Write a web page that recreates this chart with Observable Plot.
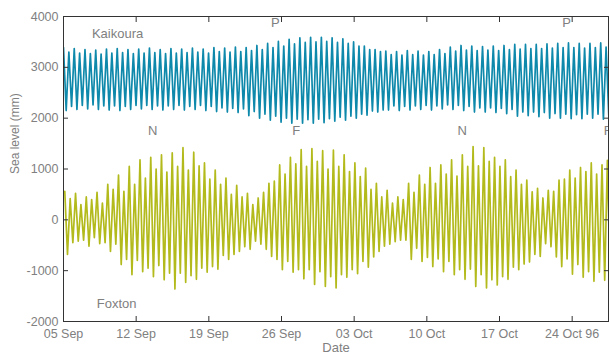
<!DOCTYPE html>
<html>
<head>
<meta charset="utf-8">
<script src="https://cdn.jsdelivr.net/npm/d3@7"></script>
<script src="https://cdn.jsdelivr.net/npm/@observablehq/plot@0.6"></script>
<style>
html,body{margin:0;padding:0;background:#fff;}
#chart svg{display:block;}
</style>
</head>
<body>
<div id="chart"></div>
<script>
// ---- Data ----
// Successive high and low water levels (mm), one pair per tidal cycle (~12.42 h)
const kaikouraHigh = [3390,3300,3370,3280,3350,3270,3340,3260,3360,3280,
 3370,3290,3350,3270,3360,3280,3380,3290,3350,3270,
 3370,3280,3360,3290,3380,3300,3360,3280,3390,3310,
 3380,3300,3400,3310,3390,3330,3430,3350,3470,3390,
 3510,3420,3550,3460,3580,3490,3590,3500,3590,3510,
 3580,3490,3560,3470,3500,3420,3420,3350,3350,3310,
 3320,3250,3310,3240,3330,3250,3320,3240,3310,3250,
 3350,3270,3400,3320,3430,3340,3420,3330,3410,3340,
 3420,3330,3430,3350,3450,3360,3450,3370,3450,3370,
 3460,3380,3470,3390,3480,3390,3470,3380,3470,3390,
 3480,3400];
const kaikouraLow = [2150,2230,2170,2250,2180,2260,2170,2240,2160,2240,
 2150,2230,2170,2250,2180,2250,2170,2240,2160,2240,
 2170,2250,2160,2230,2170,2250,2150,2230,2130,2200,
 2120,2190,2110,2180,2050,2130,2000,2080,1960,2040,
 1920,2000,1900,1980,1900,1970,1900,1980,1910,1990,
 1940,2020,1960,2040,2000,2080,2060,2140,2120,2160,
 2160,2240,2150,2230,2160,2240,2170,2250,2160,2240,
 2180,2260,2170,2250,2150,2230,2120,2200,2120,2200,
 2110,2190,2090,2170,2040,2120,2050,2120,2030,2110,
 2000,2090,2000,2080,1990,2070,1990,2080,2000,2080,
 1980,2060];
const foxtonHigh = [560,420,520,300,450,400,540,330,700,600,
 880,560,1050,700,1180,820,1230,1000,1280,940,
 1320,1050,1420,980,1330,1060,1120,800,980,700,
 820,500,680,450,520,300,430,540,720,760,
 1080,900,1230,1100,1380,1050,1400,1150,1360,1000,
 1370,1050,1280,950,1120,850,1020,600,720,450,
 580,330,450,400,720,540,880,700,1030,720,
 1080,900,1180,860,1280,1050,1440,1060,1420,1150,
 1230,1050,1180,850,980,700,780,550,620,430,
 580,560,780,800,980,820,1030,950,1120,900,
 1080,1170];
const foxtonLow = [-680,-450,-420,-400,-520,-350,-470,-450,-620,-480,
 -880,-780,-1080,-800,-1020,-950,-1120,-900,-1180,-1050,
 -1360,-1050,-1230,-1100,-1170,-950,-1030,-920,-970,-700,
 -780,-680,-620,-530,-580,-420,-480,-580,-720,-780,
 -980,-820,-1030,-980,-1160,-980,-1270,-1020,-1310,-1120,
 -1340,-1080,-1130,-980,-1060,-820,-930,-730,-620,-520,
 -480,-430,-400,-400,-780,-560,-820,-740,-920,-770,
 -1020,-820,-1080,-980,-1170,-970,-1310,-1080,-1340,-1180,
 -1280,-1120,-1170,-930,-980,-870,-830,-680,-720,-470,
 -530,-730,-920,-770,-1070,-880,-1130,-1020,-1210,-1030,
 -1190,-1170];

const seriesStart = "1996-09-05T00:00Z";
const seriesEnd = "1996-10-27T12:00Z";
const tidalCycleHours = 12.42;
const siteOffsetHours = {Kaikoura: 0, Foxton: 3};

const xTickDates = ["1996-09-05","1996-09-12","1996-09-19","1996-09-26","1996-10-03","1996-10-10","1996-10-17","1996-10-24"];
const xTickLabels = ["05 Sep","12 Sep","19 Sep","26 Sep","03 Oct","10 Oct","17 Oct","24 Oct 96"];
const yTicks = [-2000,-1000,0,1000,2000,3000,4000];

const phaseLabels = ["P","P","N","F","N","F"];
const phaseDates = ["1996-09-25T10:00Z","1996-10-23T11:00Z","1996-09-13T14:00Z","1996-09-27T10:00Z","1996-10-13T10:00Z","1996-10-27T10:00Z"];
const phaseLevels = [3880,3880,1760,1760,1760,1760];

const siteLabels = ["Kaikoura","Foxton"];
const siteLabelDates = ["1996-09-10T05:00Z","1996-09-10T03:00Z"];
const siteLabelLevels = [3650,-1650];

const colors = {Kaikoura: "#0f89ab", Foxton: "#b3ba1c"};

// ---- Build tables ----
const HOUR = 3600e3;
const t0 = new Date(seriesStart).getTime();
function build(site, highs, lows) {
  const off = siteOffsetHours[site];
  const out = [];
  highs.forEach((h, k) => {
    out.push({site, date: new Date(t0 + (off + k * tidalCycleHours) * HOUR), level: h});
    out.push({site, date: new Date(t0 + (off + (k + 0.5) * tidalCycleHours) * HOUR), level: lows[k]});
  });
  return out;
}
const kaikoura = build("Kaikoura", kaikouraHigh, kaikouraLow);
const foxton = build("Foxton", foxtonHigh, foxtonLow);
const xTicks = xTickDates.map(d => new Date(d + "T00:00Z"));
const tickLabelOf = d => xTickLabels[xTicks.findIndex(t => +t === +d)];
const phases = phaseLabels.map((l, i) => ({label: l, date: new Date(phaseDates[i]), level: phaseLevels[i]}));
const sites = siteLabels.map((l, i) => ({label: l, date: new Date(siteLabelDates[i]), level: siteLabelLevels[i]}));

const axisColor = "#333";
const textColor = "#808080";

const chart = Plot.plot({
  width: 609,
  height: 356,
  marginLeft: 63,
  marginRight: 1,
  marginTop: 16,
  marginBottom: 35,
  style: {fontFamily: "'Liberation Sans', Arial, sans-serif", fontSize: "13px", background: "#fff", overflow: "hidden"},
  x: {type: "utc", domain: [new Date(seriesStart), new Date(seriesEnd)]},
  y: {domain: [-2000, 4000]},
  marks: [
    Plot.lineY(kaikoura, {x: "date", y: "level", stroke: colors.Kaikoura, strokeWidth: 1.7, clip: true}),
    Plot.lineY(foxton, {x: "date", y: "level", stroke: colors.Foxton, strokeWidth: 1.7, clip: true}),
    Plot.text(sites, {x: "date", y: "level", text: "label", fill: textColor, fontSize: 13}),
    Plot.text(phases, {x: "date", y: "level", text: "label", fill: textColor, fontSize: 13}),
    Plot.frame({stroke: axisColor, strokeWidth: 1}),
    Plot.axisX({anchor: "bottom", ticks: xTicks, tickSize: -5, tickPadding: 12.5, tickFormat: tickLabelOf, stroke: axisColor, fill: textColor, label: null, fontSize: 12.5}),
    Plot.axisX({anchor: "top", ticks: xTicks, tickSize: -5, tickFormat: () => "", stroke: axisColor, label: null}),
    Plot.axisY({anchor: "left", ticks: yTicks, tickSize: -5, tickPadding: 10, tickFormat: d => String(d), stroke: axisColor, fill: textColor, label: null, fontSize: 12.5}),
    Plot.axisY({anchor: "right", ticks: yTicks, tickSize: -5, tickFormat: () => "", stroke: axisColor, label: null}),
    Plot.text(["Date"], {frameAnchor: "bottom", dy: 30, text: d => d, fill: textColor, fontSize: 13}),
    Plot.text(["Sea level (mm)"], {frameAnchor: "left", dx: -48, dy: 5, rotate: -90, text: d => d, fill: textColor, fontSize: 12})
  ]
});
document.getElementById("chart").appendChild(chart);
</script>
</body>
</html>
